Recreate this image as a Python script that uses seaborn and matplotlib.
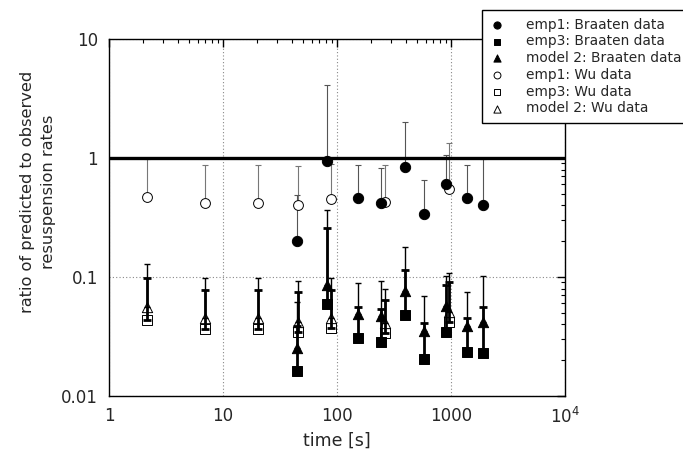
import numpy as np
import pandas as pd
import matplotlib
matplotlib.use("Agg")
import matplotlib.pyplot as plt
from matplotlib.ticker import FixedLocator, FixedFormatter, LogLocator, NullFormatter
import seaborn as sns

# Braaten data: time [s], ratio and upper end of the error bar for each model
braaten_t = [44.8, 82, 153, 245, 395, 583, 898, 1390, 1897]
braaten_emp1 = [0.20, 0.95, 0.46, 0.42, 0.835, 0.34, 0.60, 0.46, 0.405]
braaten_emp1_hi = [0.49, 4.1, 0.88, 0.82, 2.0, 0.66, 1.06, 0.88, 0.98]
braaten_emp3 = [0.0162, 0.0593, 0.0307, 0.0286, 0.0482, 0.0205, 0.0343, 0.0236, 0.023]
braaten_emp3_hi = [0.0385, 0.258, 0.0563, 0.054, 0.115, 0.0408, 0.085, 0.045, 0.0563]
braaten_m2 = [0.0253, 0.0857, 0.0489, 0.0474, 0.0759, 0.035, 0.0574, 0.039, 0.0416]
braaten_m2_hi = [0.062, 0.368, 0.089, 0.0925, 0.18, 0.0697, 0.1026, 0.0753, 0.1026]

# Wu data
wu_t = [2.15, 6.9, 20.2, 45.4, 88.6, 262, 967]
wu_emp1 = [0.47, 0.42, 0.42, 0.405, 0.45, 0.43, 0.55]
wu_emp1_hi = [0.98, 0.88, 0.88, 0.85, 0.89, 0.88, 1.33]
wu_emp3 = [0.0438, 0.0366, 0.0366, 0.0347, 0.0375, 0.0336, 0.0416]
wu_emp3_hi = [0.0975, 0.0782, 0.078, 0.0744, 0.078, 0.0645, 0.0914]
wu_m2 = [0.0556, 0.045, 0.045, 0.042, 0.045, 0.041, 0.0505]
wu_m2_hi = [0.129, 0.0982, 0.098, 0.093, 0.098, 0.080, 0.108]

x_ticks = [1, 10, 100, 1000, 10000]
x_labels = ["1", "10", "100", "1000", "10$^4$"]
y_ticks = [0.01, 0.1, 1, 10]
y_labels = ["0.01", "0.1", "1", "10"]

sns.set_style("white")
plt.rcParams["font.family"] = ["DejaVu Sans"]

fig = plt.figure(figsize=(6.83, 4.53), dpi=100)
ax = fig.add_axes([0.1596, 0.1258, 0.6676, 0.788])
ax.set_xscale("log")
ax.set_yscale("log")
ax.set_xlim(1, 10000)
ax.set_ylim(0.01, 10)

# reference line at ratio = 1
ax.axhline(1.0, color="black", lw=2.4, zorder=5)

def upper_bars(t, y, hi, lw, color, cap, z):
    y = np.asarray(y)
    err = np.vstack([np.zeros_like(y), np.asarray(hi) - y])
    ax.errorbar(t, y, yerr=err, fmt="none", ecolor=color, elinewidth=lw,
                capsize=cap, capthick=lw, zorder=z)

# error bars: emp1 thin grey, model 2 thin black, emp3 thick black
upper_bars(wu_t, wu_emp1, wu_emp1_hi, 0.8, "#777777", 2.2, 2)
upper_bars(braaten_t, braaten_emp1, braaten_emp1_hi, 0.8, "#555555", 2.2, 2)
upper_bars(wu_t, wu_m2, wu_m2_hi, 1.0, "black", 2.2, 3)
upper_bars(braaten_t, braaten_m2, braaten_m2_hi, 1.0, "black", 2.2, 3)
upper_bars(wu_t, wu_emp3, wu_emp3_hi, 2.0, "black", 2.6, 3)
upper_bars(braaten_t, braaten_emp3, braaten_emp3_hi, 2.0, "black", 2.6, 3)

series = [
    ("emp1: Braaten data", braaten_t, braaten_emp1, "o", "black", 55, 6),
    ("emp3: Braaten data", braaten_t, braaten_emp3, "s", "black", 45, 6),
    ("model 2: Braaten data", braaten_t, braaten_m2, "^", "black", 55, 6),
    ("emp1: Wu data", wu_t, wu_emp1, "o", "white", 50, 4),
    ("emp3: Wu data", wu_t, wu_emp3, "s", "white", 42, 2.5),
    ("model 2: Wu data", wu_t, wu_m2, "^", "white", 55, 2.5),
]
for label, t, y, m, fc, s, z in series:
    df = pd.DataFrame({"time": t, "ratio": y})
    sns.scatterplot(data=df, x="time", y="ratio", marker=m, s=s, color=fc,
                    edgecolor="black", linewidth=0.7, label=label, ax=ax,
                    zorder=z, clip_on=False)

ax.xaxis.set_major_locator(FixedLocator(x_ticks))
ax.xaxis.set_major_formatter(FixedFormatter(x_labels))
ax.yaxis.set_major_locator(FixedLocator(y_ticks))
ax.yaxis.set_major_formatter(FixedFormatter(y_labels))
ax.xaxis.set_minor_locator(LogLocator(base=10, subs=np.arange(2, 10), numticks=20))
ax.yaxis.set_minor_locator(LogLocator(base=10, subs=np.arange(2, 10), numticks=20))
ax.xaxis.set_minor_formatter(NullFormatter())
ax.yaxis.set_minor_formatter(NullFormatter())
ax.tick_params(which="major", direction="in", length=6, width=1, labelsize=12,
               top=True, right=True, color="black")
ax.tick_params(which="minor", direction="in", length=3, width=0.8,
               top=True, right=True, color="black")
ax.tick_params(axis="x", pad=8)
ax.tick_params(axis="y", pad=8)

ax.grid(True, which="major", linestyle=(0, (1, 2)), color="#888888", lw=0.8)
for sp in ax.spines.values():
    sp.set_color("black")
    sp.set_linewidth(1.0)

ax.set_xlabel("time [s]", fontsize=12.5, labelpad=3)
ax.set_ylabel("")
fig.text(0.0556, 0.576, "ratio of predicted to observed\nresuspension rates",
         rotation=90, ha="center", va="center", fontsize=11.7,
         linespacing=1.45)

leg = ax.legend(loc="upper left", bbox_to_anchor=(0.705, 0.978),
                bbox_transform=fig.transFigure, fontsize=9.9, frameon=True,
                fancybox=False, edgecolor="black", framealpha=1,
                labelspacing=0.2, handletextpad=1.5, borderpad=0.55,
                borderaxespad=0, handlelength=1.2, markerscale=0.7)
leg.get_frame().set_linewidth(1.0)
leg.set_zorder(10)

fig.savefig("out.png", dpi=100)
